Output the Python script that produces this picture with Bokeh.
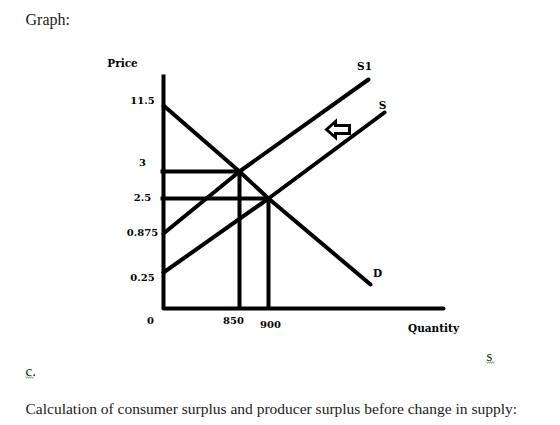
import numpy as np
from bokeh.plotting import figure
from bokeh.models import Range1d
from bokeh.core.properties import value
from bokeh.embed import file_html
from bokeh.resources import INLINE

# ---- economic data -------------------------------------------------------
price_ticks = [11.5, 3, 2.5, 0.875, 0.25]
price_tick_labels = ["11.5", "3", "2.5", "0.875", "0.25"]
quantity_ticks = [850, 900]
quantity_tick_labels = ["850", "900"]

demand_intercept = 11.5          # D meets the price axis
supply_intercept = 0.25          # original supply S
supply1_intercept = 0.875        # shifted supply S1
eq_before = (900, 2.5)           # S and D
eq_after = (850, 3)              # S1 and D

# ---- schematic diagram scale (not to scale, as in the sketch) -----------
# price -> vertical drawing position, quantity -> horizontal drawing position
price_anchor_vals = [0, 0.25, 0.875, 2.5, 3, 11.5]
price_anchor_pos = [308, 272, 233, 198, 171, 105]
qty_anchor_vals = [0, 850, 900]
qty_anchor_pos = [163, 239, 268]


def py(p):
    return float(np.interp(p, price_anchor_vals, price_anchor_pos))


def qx(q):
    return float(np.interp(q, qty_anchor_vals, qty_anchor_pos))


# where each hand-drawn curve stops on the sheet
curve_ends = {"D": (370, 284), "S1": (368, 79), "S": (384, 112)}

p = figure(width=560, height=425, output_backend="svg", toolbar_location=None,
           x_range=Range1d(0, 560), y_range=Range1d(425, 0),
           min_border=0, min_border_left=0, min_border_right=0,
           min_border_top=0, min_border_bottom=0)
p.axis.visible = False
p.grid.visible = False
p.outline_line_color = None
p.background_fill_color = "white"
p.border_fill_color = "white"

serif = value("Liberation Serif")
label_font = value("DejaVu Serif")

# page text around the sketch
p.text(x=[25], y=[19], text=["Graph:"], text_font=serif, text_font_size="16px",
       text_color="#1a1a1a", text_baseline="middle", text_align="left")
p.text(x=[25], y=[370], text=["c."], text_font=serif, text_font_size="15px",
       text_color="#1a1a1a", text_baseline="middle", text_align="left")
p.text(x=[486], y=[355], text=["s"], text_font=serif, text_font_size="15px",
       text_color="#1a1a1a", text_baseline="middle", text_align="left")
p.text(x=[25], y=[408],
       text=["Calculation of consumer surplus and producer surplus before change in supply:"],
       text_font=serif, text_font_size="15.5px", text_color="#1a1a1a",
       text_baseline="middle", text_align="left")
# spell-check squiggles
for x0, x1, yy in [(25, 33, 377), (486, 494, 362)]:
    xs = np.arange(x0, x1 + 0.1, 1.0)
    ys = yy + 0.8 * np.where(np.arange(len(xs)) % 2 == 0, -1, 1)
    p.line(xs, ys, line_color="#6fb56f", line_width=1)

# axes
x0, y0 = qx(0), py(0)
p.line([x0, x0], [y0, 74], line_color="black", line_width=4)
p.line([x0, 443], [y0, y0], line_color="black", line_width=4, line_cap="round")

# equilibrium guide lines
for q, pr in [eq_after, eq_before]:
    p.line([x0 - 3, qx(q)], [py(pr), py(pr)], line_color="black", line_width=4)
    p.line([qx(q), qx(q)], [py(pr), y0], line_color="black", line_width=4)

# demand and supply curves
curves = {
    "D": [(0, demand_intercept), eq_after, eq_before],
    "S1": [(0, supply1_intercept), eq_after],
    "S": [(0, supply_intercept), eq_before],
}
for name, pts in curves.items():
    xs = [qx(q) for q, _ in pts] + [curve_ends[name][0]]
    ys = [py(pr) for _, pr in pts] + [curve_ends[name][1]]
    p.line(xs, ys, line_color="black", line_width=4, line_cap="round")

# price tick labels
label_y_offset = {"11.5": -5, "3": -9, "2.5": -1, "0.875": -1, "0.25": 5}
p.text(x=[142] * len(price_ticks),
       y=[py(v) + label_y_offset[t] for v, t in zip(price_ticks, price_tick_labels)],
       text=price_tick_labels, text_font=label_font, text_font_size="10px",
       text_font_style="bold", text_color="#000000",
       text_align="center", text_baseline="middle")
p.text(x=[150], y=[320], text=["0"], text_font=label_font, text_font_size="10px",
       text_font_style="bold", text_color="#000000",
       text_align="center", text_baseline="middle")
p.text(x=[qx(q) + dx for q, dx in zip(quantity_ticks, [-6, 2])],
       y=[320, 324], text=quantity_tick_labels, text_font=label_font,
       text_font_size="10px", text_font_style="bold", text_color="#000000",
       text_align="center", text_baseline="middle")

# axis titles and curve names
p.text(x=[122, 433, 364, 382, 377], y=[62, 327, 65, 104, 272],
       text=["Price", "Quantity", "S1", "S", "D"], text_font=label_font,
       text_font_size="10.5px", text_font_style="bold", text_color="#000000",
       text_align="center", text_baseline="middle")

# hollow arrow showing the leftward shift of supply
arrow_x = [326, 335, 335, 349, 349, 335, 335]
arrow_y = [129, 121, 125, 125, 133, 133, 137]
p.patch(arrow_x, arrow_y, fill_color="white", line_color="black", line_width=3,
        line_join="miter")

open("out.html", "w").write(file_html(p, INLINE))
